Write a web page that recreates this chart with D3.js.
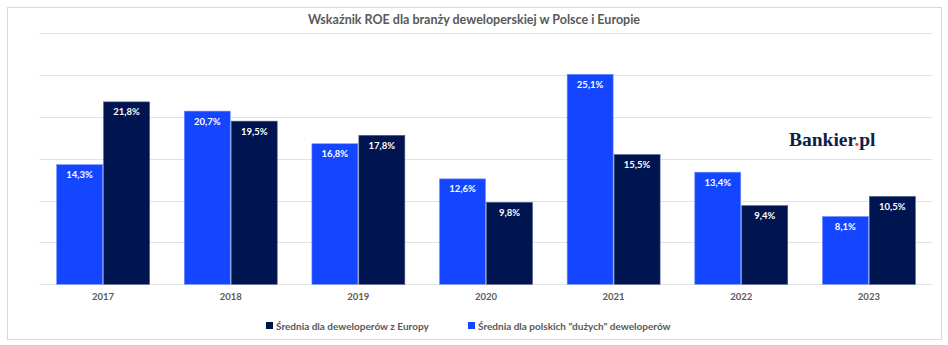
<!DOCTYPE html>
<html>
<head>
<meta charset="utf-8">
<script src="https://cdn.jsdelivr.net/npm/d3@7"></script>
<style>
  body { margin: 0; background: #fff; }
  svg text { font-family: Lato, "Open Sans", sans-serif; }
</style>
</head>
<body>
<svg id="chart" width="948" height="345"></svg>
<script>
const years = ['2017', '2018', '2019', '2020', '2021', '2022', '2023'];
const polskaValues = [14.3, 20.7, 16.8, 12.6, 25.1, 13.4, 8.1];
const europaValues = [21.8, 19.5, 17.8, 9.8, 15.5, 9.4, 10.5];
const yTicks = [0, 5, 10, 15, 20, 25, 30];
const seriesNames = ['Średnia dla deweloperów z Europy', 'Średnia dla polskich "dużych" deweloperów'];

const LIGHT = '#1446ff';
const DARK = '#001450';

const svg = d3.select('#chart');

// outer frame
svg.append('rect')
    .attr('x', 7.5).attr('y', 7.5)
    .attr('width', 934).attr('height', 332)
    .attr('fill', '#fff').attr('stroke', '#d9d9d9').attr('stroke-width', 1);

const plotL = 39.3, plotR = 932.7, plotT = 33.3, plotB = 284.3;

const x = d3.scaleBand().domain(years).range([plotL, plotR]).paddingInner(0.264).paddingOuter(0.132);
const xs = d3.scaleBand().domain(['pl', 'eu']).range([0, x.bandwidth()]);
const y = d3.scaleLinear().domain([0, 30]).range([plotB, plotT]);

// gridlines
svg.append('g')
  .selectAll('line')
  .data(yTicks)
  .join('line')
    .attr('x1', plotL).attr('x2', plotR)
    .attr('y1', d => Math.round(y(d)) + 0.5).attr('y2', d => Math.round(y(d)) + 0.5)
    .attr('stroke', '#e3e3e3').attr('stroke-width', 1);

// title
svg.append('text')
    .attr('x', 474).attr('y', 24)
    .attr('text-anchor', 'middle')
    .attr('font-size', 12.5).attr('font-weight', 'bold').attr('fill', '#595959')
    .text('Wskaźnik ROE dla branży deweloperskiej w Polsce i Europie');

// logo
const logo = svg.append('text')
    .attr('x', 789).attr('y', 146)
    .style('font-family', '"Liberation Serif", "DejaVu Serif", serif')
    .attr('font-size', 19.5).attr('font-weight', 'bold').attr('fill', '#0e1e45');
logo.append('tspan').text('Bankier');
logo.append('tspan').attr('fill', '#e8452c').text('.');
logo.append('tspan').text('pl');

const data = years.map((yr, i) => ({ yr, pl: polskaValues[i], eu: europaValues[i] }));

const groups = svg.append('g').selectAll('g')
  .data(data)
  .join('g')
    .attr('transform', d => `translate(${x(d.yr)},0)`);

const series = [
  { key: 'pl', fill: LIGHT, stroke: '#6f8fff' },
  { key: 'eu', fill: DARK, stroke: '#4a5a8a' }
];

series.forEach(s => {
  groups.append('rect')
      .attr('x', xs(s.key) + 0.5)
      .attr('y', d => y(d[s.key]))
      .attr('width', xs.bandwidth() - 1)
      .attr('height', d => plotB - y(d[s.key]))
      .attr('fill', s.fill)
      .attr('stroke', s.stroke).attr('stroke-width', 0.6);

  groups.append('text')
      .attr('x', xs(s.key) + xs.bandwidth() / 2)
      .attr('y', d => y(d[s.key]) + 13.5)
      .attr('text-anchor', 'middle')
      .attr('font-size', 9.5).attr('font-weight', 'bold').attr('fill', '#fff')
      .text(d => d[s.key].toFixed(1).replace('.', ',') + '%');
});

// x axis labels
svg.append('g')
  .selectAll('text')
  .data(years)
  .join('text')
    .attr('x', d => x(d) + x.bandwidth() / 2)
    .attr('y', 300)
    .attr('text-anchor', 'middle')
    .attr('font-size', 9.5).attr('font-weight', 'bold').attr('fill', '#595959')
    .text(d => d);

// legend
const legendItems = [
  { name: seriesNames[0], color: DARK, x: 266 },
  { name: seriesNames[1], color: LIGHT, x: 468 }
];
const lg = svg.append('g').selectAll('g')
  .data(legendItems)
  .join('g')
    .attr('transform', d => `translate(${d.x},0)`);
lg.append('rect')
    .attr('x', 0).attr('y', 322).attr('width', 7).attr('height', 7)
    .attr('fill', d => d.color);
lg.append('text')
    .attr('x', 10).attr('y', 329.5)
    .attr('font-size', 10).attr('font-weight', 'bold').attr('fill', '#595959')
    .text(d => d.name);
</script>
</body>
</html>
